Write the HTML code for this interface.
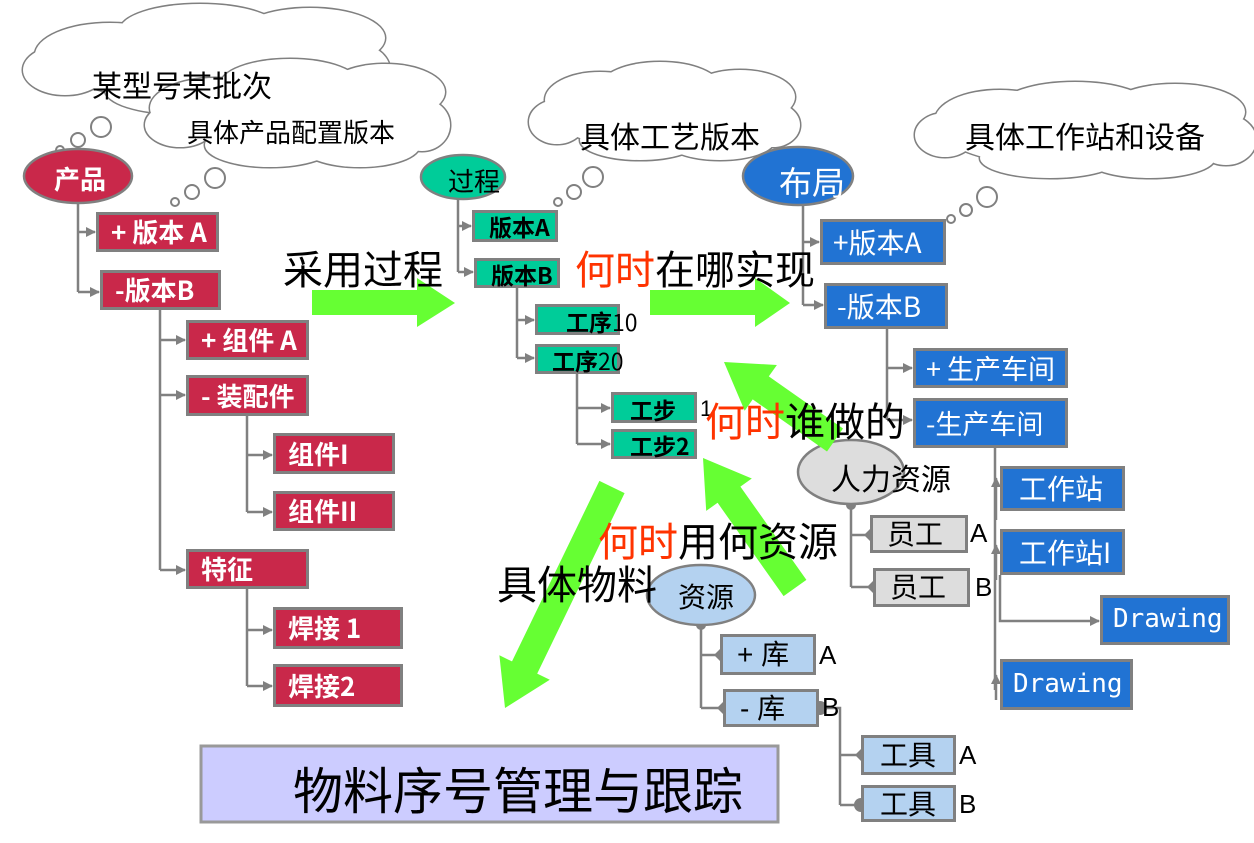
<!DOCTYPE html>
<html><head><meta charset="utf-8"><style>
body{margin:0;width:1254px;height:843px;position:relative;background:#fff;overflow:hidden;font-family:"Liberation Sans","Noto Sans CJK SC",sans-serif}
.b{position:absolute;box-sizing:border-box;border:3px solid #808080;white-space:nowrap;overflow:hidden}
.v{overflow:visible}
.r{background:#c9284a;color:#fff;font-size:26px;font-weight:bold;padding-left:12px;font-family:"Noto Sans CJK SC",sans-serif}
.g{background:#00cc99;color:#000;font-size:23px;font-weight:bold;font-family:"Noto Sans CJK SC",sans-serif}
.bl{background:#2173d3;color:#fff;font-size:28px;padding-left:10px;font-family:"Noto Sans CJK SC",sans-serif}
.gr{background:#dddddd;color:#000;font-size:28px;padding-left:14px}
.lb{background:#b4d2f0;color:#000;font-size:28px;padding-left:14px}
.t{position:absolute;white-space:nowrap;color:#000}
svg{position:absolute;left:0;top:0}
</style></head><body>
<svg width="1254" height="843" viewBox="0 0 1254 843">
<defs><marker id="m" markerWidth="10" markerHeight="10" refX="9" refY="5" orient="auto" markerUnits="userSpaceOnUse"><path d="M0,0L10,5L0,10z" fill="#808080"/></marker>
<marker id="d" markerWidth="12" markerHeight="12" refX="6" refY="6" orient="auto" markerUnits="userSpaceOnUse"><path d="M0,6L6,0L12,6L6,12z" fill="#808080"/></marker></defs>
<g fill="none" stroke="#808080" stroke-width="3">
<g><ellipse cx="207" cy="62" rx="150" ry="40"/><ellipse cx="110" cy="55" rx="75" ry="32"/><ellipse cx="200" cy="30" rx="80" ry="26"/><ellipse cx="310" cy="38" rx="75" ry="30"/><ellipse cx="350" cy="70" rx="40" ry="28"/><ellipse cx="65" cy="70" rx="42" ry="25"/><ellipse cx="180" cy="90" rx="75" ry="24"/><ellipse cx="270" cy="92" rx="70" ry="22"/></g>
<g fill="#fff" stroke="none"><ellipse cx="207" cy="62" rx="150" ry="40"/><ellipse cx="110" cy="55" rx="75" ry="32"/><ellipse cx="200" cy="30" rx="80" ry="26"/><ellipse cx="310" cy="38" rx="75" ry="30"/><ellipse cx="350" cy="70" rx="40" ry="28"/><ellipse cx="65" cy="70" rx="42" ry="25"/><ellipse cx="180" cy="90" rx="75" ry="24"/><ellipse cx="270" cy="92" rx="70" ry="22"/></g>
<g><ellipse cx="297" cy="115" rx="125" ry="38"/><ellipse cx="215" cy="108" rx="65" ry="30"/><ellipse cx="290" cy="85" rx="70" ry="26"/><ellipse cx="385" cy="92" rx="60" ry="28"/><ellipse cx="422" cy="125" rx="28" ry="26"/><ellipse cx="180" cy="125" rx="35" ry="22"/><ellipse cx="270" cy="145" rx="65" ry="22"/><ellipse cx="360" cy="145" rx="60" ry="22"/></g>
<g fill="#fff" stroke="none"><ellipse cx="297" cy="115" rx="125" ry="38"/><ellipse cx="215" cy="108" rx="65" ry="30"/><ellipse cx="290" cy="85" rx="70" ry="26"/><ellipse cx="385" cy="92" rx="60" ry="28"/><ellipse cx="422" cy="125" rx="28" ry="26"/><ellipse cx="180" cy="125" rx="35" ry="22"/><ellipse cx="270" cy="145" rx="65" ry="22"/><ellipse cx="360" cy="145" rx="60" ry="22"/></g>
<g><ellipse cx="663" cy="115" rx="110" ry="35"/><ellipse cx="600" cy="100" rx="55" ry="28"/><ellipse cx="660" cy="87" rx="60" ry="25"/><ellipse cx="740" cy="97" rx="55" ry="27"/><ellipse cx="773" cy="125" rx="27" ry="22"/><ellipse cx="557" cy="122" rx="28" ry="22"/><ellipse cx="640" cy="140" rx="60" ry="20"/><ellipse cx="720" cy="140" rx="55" ry="20"/></g>
<g fill="#fff" stroke="none"><ellipse cx="663" cy="115" rx="110" ry="35"/><ellipse cx="600" cy="100" rx="55" ry="28"/><ellipse cx="660" cy="87" rx="60" ry="25"/><ellipse cx="740" cy="97" rx="55" ry="27"/><ellipse cx="773" cy="125" rx="27" ry="22"/><ellipse cx="557" cy="122" rx="28" ry="22"/><ellipse cx="640" cy="140" rx="60" ry="20"/><ellipse cx="720" cy="140" rx="55" ry="20"/></g>
<g><ellipse cx="1085" cy="133" rx="140" ry="35"/><ellipse cx="1000" cy="120" rx="65" ry="30"/><ellipse cx="1075" cy="107" rx="75" ry="25"/><ellipse cx="1175" cy="112" rx="70" ry="28"/><ellipse cx="1226" cy="140" rx="30" ry="25"/><ellipse cx="945" cy="135" rx="30" ry="22"/><ellipse cx="1050" cy="158" rx="70" ry="20"/><ellipse cx="1150" cy="158" rx="65" ry="20"/></g>
<g fill="#fff" stroke="none"><ellipse cx="1085" cy="133" rx="140" ry="35"/><ellipse cx="1000" cy="120" rx="65" ry="30"/><ellipse cx="1075" cy="107" rx="75" ry="25"/><ellipse cx="1175" cy="112" rx="70" ry="28"/><ellipse cx="1226" cy="140" rx="30" ry="25"/><ellipse cx="945" cy="135" rx="30" ry="22"/><ellipse cx="1050" cy="158" rx="70" ry="20"/><ellipse cx="1150" cy="158" rx="65" ry="20"/></g>
<g stroke-width="2"><circle cx="101" cy="127" r="10"/><circle cx="78" cy="140" r="7"/><circle cx="60" cy="150" r="4"/>
<circle cx="215" cy="178" r="10"/><circle cx="192" cy="192" r="7"/><circle cx="175" cy="202" r="4"/>
<circle cx="593" cy="177" r="10"/><circle cx="574" cy="192" r="7"/><circle cx="558" cy="202" r="4"/>
<circle cx="987" cy="197" r="10"/><circle cx="966" cy="210" r="6"/><circle cx="951" cy="219" r="4"/></g>
</g>
<g fill="none" stroke="#808080" stroke-width="2.5">
<path d="M78 200V292"/><path d="M78 232H95" marker-end="url(#m)"/><path d="M78 292H99" marker-end="url(#m)"/>
<path d="M160 310V570"/><path d="M160 340H185" marker-end="url(#m)"/><path d="M160 395H185" marker-end="url(#m)"/><path d="M160 570H185" marker-end="url(#m)"/>
<path d="M247 416V512"/><path d="M247 455H272" marker-end="url(#m)"/><path d="M247 512H272" marker-end="url(#m)"/>
<path d="M247 589V686"/><path d="M247 630H272" marker-end="url(#m)"/><path d="M247 686H272" marker-end="url(#m)"/>
<path d="M458 199V272"/><path d="M458 226H471" marker-end="url(#m)"/><path d="M458 272H473" marker-end="url(#m)"/>
<path d="M517 288V358"/><path d="M517 320H534" marker-end="url(#m)"/><path d="M517 358H534" marker-end="url(#m)"/>
<path d="M577 374V444"/><path d="M577 408H610" marker-end="url(#m)"/><path d="M577 444H610" marker-end="url(#m)"/>
<path d="M803 204V305"/><path d="M803 242H819" marker-end="url(#m)"/><path d="M803 305H823" marker-end="url(#m)"/>
<path d="M887 329V420"/><path d="M887 368H912" marker-end="url(#m)"/><path d="M887 420H912" marker-end="url(#m)"/>
<path d="M995 448V690"/><path d="M996 520V478" marker-end="url(#m)"/><path d="M996 580V545" marker-end="url(#m)"/><path d="M996 700V675" marker-end="url(#m)"/>
<path d="M1000 575V621H1099" marker-end="url(#m)"/>
<path d="M851 505V587"/><path d="M851 535H870" marker-end="url(#d)"/><path d="M851 587H873" marker-end="url(#d)"/>
<path d="M701 625V708"/><path d="M701 655H720" marker-end="url(#d)"/><path d="M701 708H723" marker-end="url(#d)"/>
<path d="M820 708H840V805"/><path d="M840 755H861" marker-end="url(#d)"/><path d="M840 805H861"/>
</g>
<g fill="#808080"><circle cx="851" cy="505" r="5"/><circle cx="701" cy="625" r="5"/><circle cx="820" cy="708" r="7"/><circle cx="861" cy="805" r="7"/></g>
<g stroke="#808080" stroke-width="2.5">
<ellipse cx="78" cy="176" rx="54" ry="27" fill="#c9284a"/>
<ellipse cx="463" cy="177" rx="42" ry="22" fill="#00cc99"/>
<ellipse cx="798" cy="176" rx="55" ry="29" fill="#2173d3"/>
<ellipse cx="851" cy="472" rx="53" ry="32" fill="#dddddd"/>
<ellipse cx="701" cy="595" rx="54" ry="30" fill="#b4d2f0"/>
</g>
<rect x="201" y="746" width="577" height="76" fill="#ccccff" stroke="#999" stroke-width="3"/>
<g fill="#66ff33">
<polygon points="312,290 417,290 417,278 455,303 417,327 417,315 312,315"/>
<polygon points="650,290 755,290 755,278 790,303 755,327 755,315 650,315"/>
<polygon points="843,428.5 768.8,376.4 776.9,365 724,362 744.7,410.8 752.7,399.4 827,451.5"/>
<polygon points="806.4,579.9 740.4,486.6 751.8,478.5 703,458 706.2,510.9 717.6,502.8 783.6,596.1"/>
<polygon points="624.6,493.1 537.2,673.6 549.8,679.7 505,708 499.4,655.3 512,661.4 599.4,480.9"/>
</g>
</svg>
<div class="t" style="left:92px;top:62px;font-size:30px">某型号某批次</div>
<div class="t" style="left:187px;top:113px;font-size:26px">具体产品配置版本</div>
<div class="t" style="left:580px;top:113px;font-size:30px">具体工艺版本</div>
<div class="t" style="left:965px;top:113px;font-size:30px">具体工作站和设备</div>
<div class="t" style="left:54px;top:160px;font-size:26px;color:#fff;font-weight:bold">产品</div>
<div class="t" style="left:448px;top:162px;font-size:26px">过程</div>
<div class="t" style="left:779px;top:157px;font-size:33px;color:#fff">布局</div>
<div class="t" style="left:831px;top:455px;font-size:30px">人力资源</div>
<div class="t" style="left:678px;top:576px;font-size:28px">资源</div>

<div class="b r" style="left:96px;top:212px;width:123px;height:40px;line-height:34px">+ 版本 A</div>
<div class="b r" style="left:100px;top:270px;width:121px;height:40px;line-height:34px">-版本B</div>
<div class="b r" style="left:186px;top:320px;width:123px;height:40px;line-height:34px">+ 组件 A</div>
<div class="b r" style="left:186px;top:375px;width:123px;height:41px;line-height:35px">- 装配件</div>
<div class="b r" style="left:273px;top:433px;width:122px;height:41px;line-height:35px">组件I</div>
<div class="b r" style="left:273px;top:491px;width:122px;height:40px;line-height:34px">组件II</div>
<div class="b r" style="left:186px;top:549px;width:123px;height:40px;line-height:34px">特征</div>
<div class="b r" style="left:273px;top:607px;width:130px;height:42px;line-height:36px">焊接 1</div>
<div class="b r" style="left:273px;top:664px;width:130px;height:43px;line-height:37px">焊接2</div>

<div class="b g v" style="left:472px;top:210px;width:86px;height:32px;line-height:26px;padding-left:14px">版本A</div>
<div class="b g v" style="left:474px;top:258px;width:86px;height:30px;line-height:26px;padding-left:14px">版本B</div>
<div class="b g v" style="left:535px;top:304px;width:85px;height:31px;line-height:28px;padding-left:28px">工序<span style="font-weight:normal">10</span></div>
<div class="b g v" style="left:535px;top:344px;width:85px;height:30px;line-height:26px;padding-left:14px">工序<span style="font-weight:normal">20</span></div>
<div class="b g v" style="left:611px;top:392px;width:86px;height:31px;line-height:28px;padding-left:16px">工步</div>
<div class="t" style="left:700px;top:396px;font-size:22px">1</div>
<div class="b g v" style="left:611px;top:429px;width:86px;height:30px;line-height:27px;padding-left:16px">工步2</div>

<div class="b bl" style="left:820px;top:219px;width:126px;height:46px;line-height:40px">+版本A</div>
<div class="b bl" style="left:824px;top:283px;width:124px;height:46px;line-height:40px">-版本B</div>
<div class="b bl" style="left:913px;top:348px;width:155px;height:40px;line-height:34px;font-size:27px">+ 生产车间</div>
<div class="b bl" style="left:913px;top:398px;width:155px;height:50px;line-height:44px;font-size:27px">-生产车间</div>
<div class="b bl" style="left:1000px;top:466px;width:125px;height:45px;line-height:39px;padding-left:16px">工作站</div>
<div class="b bl" style="left:1000px;top:529px;width:125px;height:46px;line-height:40px;padding-left:16px">工作站I</div>
<div class="b bl" style="left:1100px;top:595px;width:130px;height:50px;line-height:42px;font-family:'DejaVu Sans Mono',monospace;font-size:26px">Drawing</div>
<div class="b bl" style="left:1000px;top:659px;width:133px;height:51px;line-height:45px;font-family:'DejaVu Sans Mono',monospace;font-size:26px">Drawing</div>

<div class="b gr" style="left:870px;top:515px;width:98px;height:38px;line-height:33px">员工</div>
<div class="t" style="left:970px;top:518px;font-size:26px">A</div>
<div class="b gr" style="left:873px;top:568px;width:97px;height:39px;line-height:34px">员工</div>
<div class="t" style="left:975px;top:572px;font-size:26px">B</div>
<div class="b lb" style="left:720px;top:634px;width:96px;height:41px;line-height:36px">+ 库</div>
<div class="t" style="left:819px;top:640px;font-size:26px">A</div>
<div class="b lb" style="left:723px;top:689px;width:96px;height:38px;line-height:33px">- 库</div>
<div class="t" style="left:822px;top:692px;font-size:26px">B</div>
<div class="b lb" style="left:861px;top:735px;width:95px;height:40px;line-height:35px;padding-left:16px">工具</div>
<div class="t" style="left:959px;top:740px;font-size:26px">A</div>
<div class="b lb" style="left:861px;top:785px;width:95px;height:37px;line-height:33px;padding-left:16px">工具</div>
<div class="t" style="left:959px;top:789px;font-size:26px">B</div>

<div class="t" style="left:283px;top:238px;font-size:40px">采用过程</div>
<div class="t" style="left:575px;top:238px;font-size:40px"><span style="color:#ff3300">何时</span>在哪实现</div>
<div class="t" style="left:705px;top:390px;font-size:40px"><span style="color:#ff3300">何时</span>谁做的</div>
<div class="t" style="left:598px;top:510px;font-size:40px"><span style="color:#ff3300">何时</span>用何资源</div>
<div class="t" style="left:497px;top:553px;font-size:40px">具体物料</div>
<div class="t" style="left:293px;top:752px;font-size:50px">物料序号管理与跟踪</div>
</body></html>
